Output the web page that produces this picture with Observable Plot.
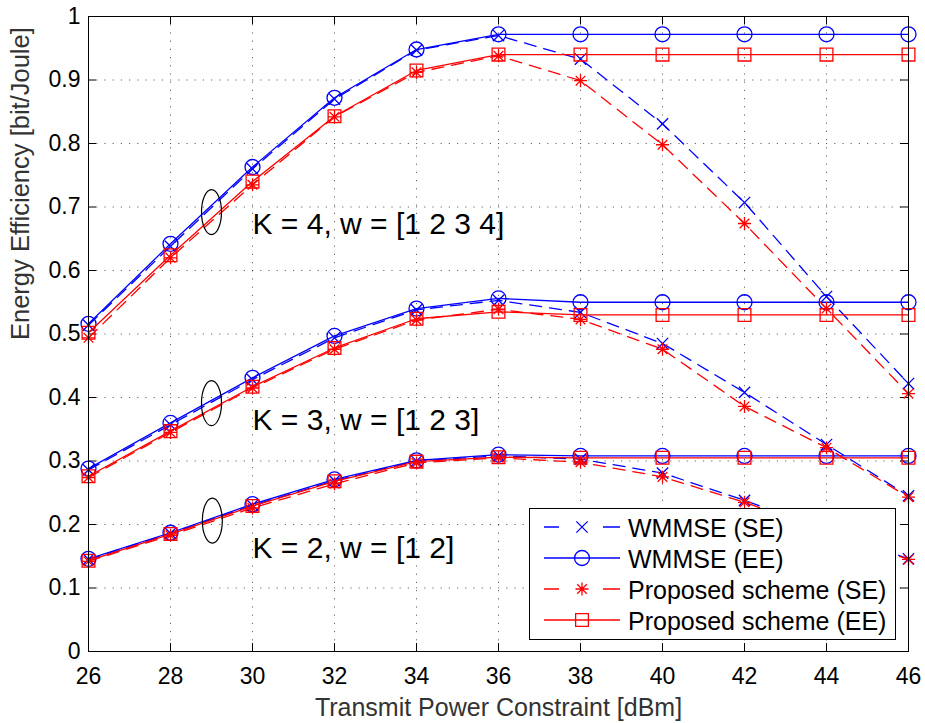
<!DOCTYPE html>
<html><head><meta charset="utf-8">
<script src="https://cdn.jsdelivr.net/npm/d3@7"></script>
<script src="https://cdn.jsdelivr.net/npm/@observablehq/plot@0.6"></script>
<style>
body{margin:0;background:#fff;}
#wrap{position:relative;width:925px;height:723px;}
</style></head><body><div id="wrap"></div>
<script>
// ---------- data ----------
const power = [26, 28, 30, 32, 34, 36, 38, 40, 42, 44, 46];
const xTicks = [26, 28, 30, 32, 34, 36, 38, 40, 42, 44, 46];
const yTicks = [0, 0.1, 0.2, 0.3, 0.4, 0.5, 0.6, 0.7, 0.8, 0.9, 1];

const k4WmmseSE = [0.514, 0.638, 0.760, 0.870, 0.947, 0.970, 0.933, 0.831, 0.707, 0.559, 0.422];
const k4WmmseEE = [0.516, 0.642, 0.763, 0.872, 0.948, 0.972, 0.972, 0.972, 0.972, 0.972, 0.972];
const k4PropSE  = [0.494, 0.620, 0.735, 0.842, 0.912, 0.938, 0.899, 0.798, 0.674, 0.540, 0.406];
const k4PropEE  = [0.502, 0.624, 0.740, 0.843, 0.915, 0.940, 0.940, 0.940, 0.940, 0.940, 0.940];

const k3WmmseSE = [0.286, 0.357, 0.428, 0.494, 0.538, 0.553, 0.534, 0.485, 0.408, 0.326, 0.245];
const k3WmmseEE = [0.288, 0.360, 0.431, 0.497, 0.540, 0.556, 0.550, 0.550, 0.550, 0.550, 0.550];
const k3PropSE  = [0.274, 0.345, 0.415, 0.476, 0.522, 0.539, 0.523, 0.476, 0.386, 0.321, 0.243];
const k3PropEE  = [0.276, 0.347, 0.417, 0.478, 0.524, 0.535, 0.530, 0.530, 0.530, 0.530, 0.530];

const k2WmmseSE = [0.145, 0.186, 0.230, 0.269, 0.300, 0.308, 0.303, 0.281, 0.238, 0.192, 0.146];
const k2WmmseEE = [0.146, 0.187, 0.232, 0.271, 0.301, 0.310, 0.308, 0.308, 0.308, 0.308, 0.308];
const k2PropSE  = [0.142, 0.183, 0.226, 0.264, 0.297, 0.305, 0.298, 0.275, 0.235, 0.189, 0.145];
const k2PropEE  = [0.143, 0.185, 0.229, 0.268, 0.299, 0.306, 0.305, 0.305, 0.305, 0.305, 0.305];

const seriesNames = ["WMMSE (SE)", "WMMSE (EE)", "Proposed scheme (SE)", "Proposed scheme (EE)"];
const groupK = [4, 3, 2];

const annotLabels = ["K = 4, w = [1 2 3 4]", "K = 3, w = [1 2 3]", "K = 2, w = [1 2]"];
const annotX = [30.0, 30.0, 30.0];
const annotY = [0.672, 0.364, 0.162];
const ellipseX = [29.0, 29.0, 29.02];
const ellipseY = [0.692, 0.391, 0.206];

const xLabel = "Transmit Power Constraint [dBm]";
const yLabel = "Energy Efficiency [bit/Joule]";

// ---------- styles ----------
const asterisk8 = {draw(ctx) {
  const a = 6.5, d = 4.8;
  ctx.moveTo(0, -a); ctx.lineTo(0, a);
  ctx.moveTo(-a, 0); ctx.lineTo(a, 0);
  ctx.moveTo(-d, -d); ctx.lineTo(d, d);
  ctx.moveTo(-d, d); ctx.lineTo(d, -d);
}};
const ellipseSym = {draw(ctx) {
  const rx = 10, ry = 22.5, k = 0.5523;
  ctx.moveTo(rx, 0);
  ctx.bezierCurveTo(rx, ry * k, rx * k, ry, 0, ry);
  ctx.bezierCurveTo(-rx * k, ry, -rx, ry * k, -rx, 0);
  ctx.bezierCurveTo(-rx, -ry * k, -rx * k, -ry, 0, -ry);
  ctx.bezierCurveTo(rx * k, -ry, rx, -ry * k, rx, 0);
  ctx.closePath();
}};

const seriesStyle = [
  {color: "#0000ff", dash: "12,8", symbol: "times", r: 5.2, values: [k4WmmseSE, k3WmmseSE, k2WmmseSE]},
  {color: "#0000ff", dash: null, symbol: "circle", r: 7.5, values: [k4WmmseEE, k3WmmseEE, k2WmmseEE]},
  {color: "#ff0000", dash: "12,8", symbol: asterisk8, r: 6.5, values: [k4PropSE, k3PropSE, k2PropSE]},
  {color: "#ff0000", dash: null, symbol: "square", r: 7.2, values: [k4PropEE, k3PropEE, k2PropEE]}
];

const W = 925, H = 723;
const mL = 88, mR = 17, mT = 16, mB = 72;
const pw = W - mL - mR, ph = H - mT - mB;

const marks = [];
// grid
marks.push(Plot.ruleX(xTicks, {x: d => d, stroke: "#000", strokeOpacity: 0.6, strokeDasharray: "1.2,7"}));
marks.push(Plot.ruleY(yTicks, {y: d => d, stroke: "#000", strokeOpacity: 0.6, strokeDasharray: "1.2,7"}));
// inward ticks
marks.push(Plot.tickX(xTicks, {x: d => d, insetTop: ph - 8, stroke: "#000"}));
marks.push(Plot.tickX(xTicks, {x: d => d, insetBottom: ph - 8, stroke: "#000"}));
marks.push(Plot.tickY(yTicks, {y: d => d, insetRight: pw - 8, stroke: "#000"}));
marks.push(Plot.tickY(yTicks, {y: d => d, insetLeft: pw - 8, stroke: "#000"}));

// series
seriesStyle.forEach((s, si) => {
  const rows = [];
  s.values.forEach((vals, gi) => {
    vals.forEach((v, i) => rows.push({x: power[i], y: v, key: seriesNames[si] + groupK[gi]}));
  });
  marks.push(Plot.line(rows, {x: "x", y: "y", z: "key", stroke: s.color, strokeWidth: 1.3,
    strokeDasharray: s.dash || undefined}));
  marks.push(Plot.dot(rows, {x: "x", y: "y", symbol: s.symbol, r: s.r, fill: "none",
    stroke: s.color, strokeWidth: 1.3}));
});

// ellipses
const ellRows = ellipseX.map((x, i) => ({x, y: ellipseY[i]}));
marks.push(Plot.dot(ellRows, {x: "x", y: "y", symbol: ellipseSym, r: 10, fill: "none", stroke: "#000", strokeWidth: 1.2}));
// annotations
const annRows = annotLabels.map((t, i) => ({t, x: annotX[i], y: annotY[i]}));
marks.push(Plot.text(annRows, {x: "x", y: "y", text: "t", textAnchor: "start", lineAnchor: "middle",
  fontSize: 30, fill: "#000"}));

marks.push(Plot.frame({stroke: "#000", strokeWidth: 1}));

// axis labels
marks.push(Plot.text([xLabel], {frameAnchor: "bottom", dy: 64, lineAnchor: "bottom", fontSize: 25, fill: "#333"}));
marks.push(Plot.text([yLabel], {frameAnchor: "left", dx: -60, dy: 6, rotate: -90, lineAnchor: "bottom", fontSize: 25.5, fill: "#333"}));

const chart = Plot.plot({
  width: W, height: H,
  marginLeft: mL, marginRight: mR, marginTop: mT, marginBottom: mB,
  style: {fontFamily: "'Liberation Sans', Arial, sans-serif", fontSize: "23px", background: "white", color: "#000"},
  x: {domain: [26, 46], ticks: xTicks, tickSize: 0, tickPadding: 16, label: null, tickFormat: d => String(d)},
  y: {domain: [0, 1], ticks: yTicks, tickSize: 0, tickPadding: 8, label: null,
      tickFormat: d => (d === 0 || d === 1) ? String(d) : d.toFixed(1)},
  marks
});

const wrap = document.getElementById("wrap");
wrap.appendChild(chart);

// ---------- legend ----------
const lgW = 366, lgH = 131;
const lg = d3.create("svg").attr("width", lgW + 1).attr("height", lgH + 1)
  .style("position", "absolute").style("left", "529px").style("top", "508px")
  .style("font-family", "'Liberation Sans', Arial, sans-serif");
lg.append("rect").attr("x", 0.5).attr("y", 0.5).attr("width", lgW).attr("height", lgH)
  .attr("fill", "white").attr("stroke", "#000");
seriesStyle.forEach((s, i) => {
  const cy = 19 + i * 31;
  lg.append("line").attr("x1", 15).attr("x2", 91).attr("y1", cy).attr("y2", cy)
    .attr("stroke", s.color).attr("stroke-width", 1.3)
    .attr("stroke-dasharray", s.dash ? "15,44,17" : null);
  const type = typeof s.symbol === "string"
    ? {times: d3.symbolTimes, circle: d3.symbolCircle, square: d3.symbolSquare}[s.symbol]
    : s.symbol;
  lg.append("path").attr("transform", `translate(53,${cy})`)
    .attr("d", d3.symbol(type, s.r * s.r * Math.PI)())
    .attr("fill", "none").attr("stroke", s.color).attr("stroke-width", 1.3);
  lg.append("text").attr("x", 99).attr("y", cy + 9.5).attr("font-size", 25).attr("fill", "#000")
    .text(seriesNames[i]);
});
wrap.appendChild(lg.node());
</script></body></html>
